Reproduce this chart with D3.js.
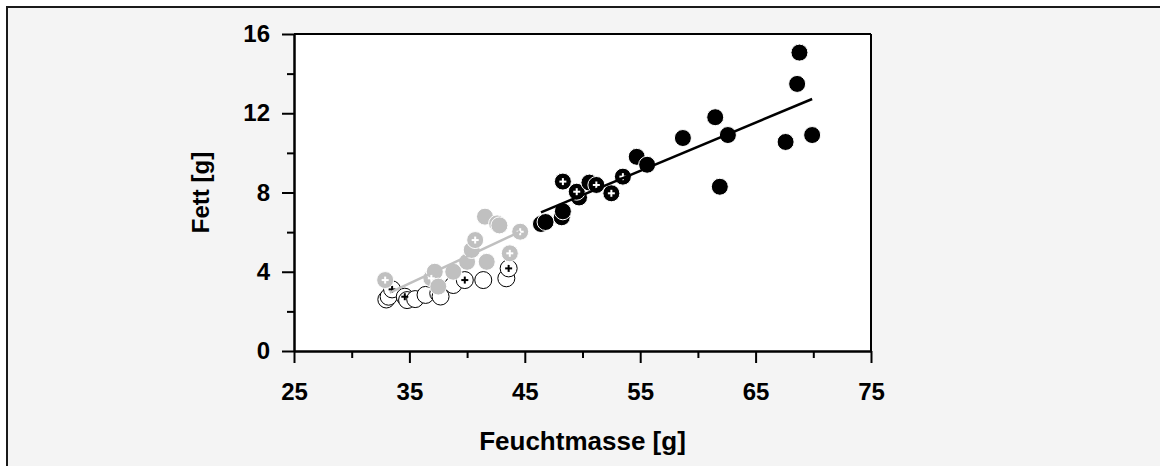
<!DOCTYPE html>
<html>
<head>
<meta charset="utf-8">
<script src="https://cdn.jsdelivr.net/npm/d3@7"></script>
<style>
  html, body { margin: 0; padding: 0; background: #ffffff; }
  svg { display: block; }
  text { font-family: "Liberation Sans", Arial, sans-serif; font-weight: bold; fill: #000; }
</style>
</head>
<body>
<svg id="chart" width="1160" height="466"></svg>
<script>
// ---------- data ----------
const xTicks = [25, 35, 45, 55, 65, 75];
const xMinorTicks = [30, 40, 50, 60, 70];
const yTicks = [0, 4, 8, 12, 16];
const yMinorTicks = [2, 6, 10, 14];
const xTitle = "Feuchtmasse [g]";
const yTitle = "Fett [g]";

// white (open) circles
const whiteX    = [33.0, 33.2, 33.5, 34.6, 34.8, 35.5, 36.4, 37.5, 37.7, 38.8, 39.8, 41.4, 43.4, 43.6];
const whiteY    = [2.60, 2.74, 3.11, 2.74, 2.57, 2.62, 2.83, 2.91, 2.75, 3.33, 3.58, 3.58, 3.67, 4.17];
const whitePlus = [0, 0, 1, 1, 0, 0, 0, 0, 0, 0, 1, 0, 0, 1];

// grey circles
const greyX    = [32.9, 36.9, 37.2, 37.5, 38.8, 40.0, 40.4, 40.7, 41.7, 41.55, 42.6, 42.8, 43.7, 44.6];
const greyY    = [3.58, 3.67, 4.00, 3.25, 4.00, 4.50, 5.10, 5.60, 4.50, 6.78, 6.44, 6.34, 4.93, 6.02];
const greyPlus = [1, 1, 0, 0, 0, 0, 0, 1, 0, 0, 0, 0, 1, 1];

// black circles
const blackX    = [46.4, 46.8, 48.2, 48.3, 48.3, 49.7, 49.5, 50.6, 51.2, 52.5, 53.5, 54.7, 55.6, 58.7, 61.5, 61.9, 62.6, 67.6, 68.6, 68.8, 69.9];
const blackY    = [6.41, 6.51, 6.75, 7.05, 8.55, 7.75, 8.04, 8.50, 8.38, 7.96, 8.80, 9.80, 9.40, 10.75, 11.80, 8.29, 10.90, 10.55, 13.48, 15.06, 10.90];
const blackPlus = [0, 0, 0, 0, 1, 0, 1, 0, 1, 1, 1, 0, 0, 0, 0, 0, 0, 0, 0, 0, 0];

// regression lines (end points)
const greyFitX  = [33.3, 44.6];
const greyFitY  = [2.95, 6.02];
const blackFitX = [46.4, 69.9];
const blackFitY = [7.00, 12.72];

// ---------- layout ----------
const svg = d3.select("#chart");
const W = 1160, H = 466;
const L = 294, R = 871, T = 34, B = 351;
const grey = "#c0c0c0";

// outer frame / background
svg.append("rect").attr("x", 7).attr("y", 7).attr("width", W + 20).attr("height", H + 20)
  .attr("fill", "#f4f4f4").attr("stroke", "#1a1a1a").attr("stroke-width", 2);

const x = d3.scaleLinear().domain([25, 75]).range([L, R]);
const y = d3.scaleLinear().domain([0, 16]).range([B, T]);

// plot area
svg.append("rect").attr("x", L).attr("y", T).attr("width", R - L).attr("height", B - T)
  .attr("fill", "#ffffff");
// top and right frame lines
svg.append("line").attr("x1", L).attr("x2", R).attr("y1", T).attr("y2", T)
  .attr("stroke", "#000").attr("stroke-width", 2);
svg.append("line").attr("x1", R).attr("x2", R).attr("y1", T).attr("y2", B)
  .attr("stroke", "#000").attr("stroke-width", 2);

// axes
function styleAxis(g) {
  g.selectAll("path.domain").attr("stroke", "#000").attr("stroke-width", 2);
  g.selectAll(".tick line").attr("stroke", "#000").attr("stroke-width", 2);
  g.selectAll("text").attr("font-size", 24).attr("font-family", "'Liberation Sans', Arial, sans-serif")
    .attr("font-weight", "bold").attr("fill", "#000");
}
const gxMinor = svg.append("g").attr("transform", `translate(0,${B})`)
  .call(d3.axisBottom(x).tickValues(xMinorTicks).tickSize(7).tickFormat("").tickSizeOuter(0));
styleAxis(gxMinor);
const gyMinor = svg.append("g").attr("transform", `translate(${L},0)`)
  .call(d3.axisLeft(y).tickValues(yMinorTicks).tickSize(7).tickFormat("").tickSizeOuter(0));
styleAxis(gyMinor);
const gx = svg.append("g").attr("transform", `translate(0,${B})`)
  .call(d3.axisBottom(x).tickValues(xTicks).tickSize(12).tickPadding(20).tickSizeOuter(0));
styleAxis(gx);
const gy = svg.append("g").attr("transform", `translate(${L},0)`)
  .call(d3.axisLeft(y).tickValues(yTicks).tickSize(12).tickPadding(12).tickSizeOuter(0));
styleAxis(gy);

// titles
svg.append("text").attr("x", (L + R) / 2).attr("y", 450).attr("text-anchor", "middle")
  .attr("font-size", 26).text(xTitle);
svg.append("text").attr("transform", `translate(209,${(T + B) / 2}) rotate(-90)`)
  .attr("text-anchor", "middle").attr("font-size", 24).text(yTitle);

// ---------- marks ----------
const r = 8.5;
function series(xs, ys, plus, fill, stroke, plusColor) {
  const data = xs.map((v, i) => ({ x: v, y: ys[i], p: plus[i] }));
  const g = svg.append("g");
  g.selectAll("circle").data(data).join("circle")
    .attr("cx", d => x(d.x)).attr("cy", d => y(d.y)).attr("r", r)
    .attr("fill", fill).attr("stroke", stroke).attr("stroke-width", 1);
  const pg = g.selectAll("g.plus").data(data.filter(d => d.p)).join("g")
    .attr("transform", d => `translate(${x(d.x)},${y(d.y)})`);
  pg.append("line").attr("x1", -3.5).attr("x2", 3.5).attr("y1", 0).attr("y2", 0)
    .attr("stroke", plusColor).attr("stroke-width", 2);
  pg.append("line").attr("x1", 0).attr("x2", 0).attr("y1", -3.5).attr("y2", 3.5)
    .attr("stroke", plusColor).attr("stroke-width", 2);
}
function fit(xs, ys, color) {
  svg.append("path").datum(xs.map((v, i) => [v, ys[i]]))
    .attr("d", d3.line().x(d => x(d[0])).y(d => y(d[1])))
    .attr("fill", "none").attr("stroke", color).attr("stroke-width", 2.5);
}

series(whiteX, whiteY, whitePlus, "#ffffff", "#000000", "#000000");
series(greyX, greyY, greyPlus, grey, "#ffffff", "#ffffff");
fit(greyFitX, greyFitY, grey);
series(blackX, blackY, blackPlus, "#000000", "#ffffff", "#ffffff");
fit(blackFitX, blackFitY, "#000000");
</script>
</body>
</html>
